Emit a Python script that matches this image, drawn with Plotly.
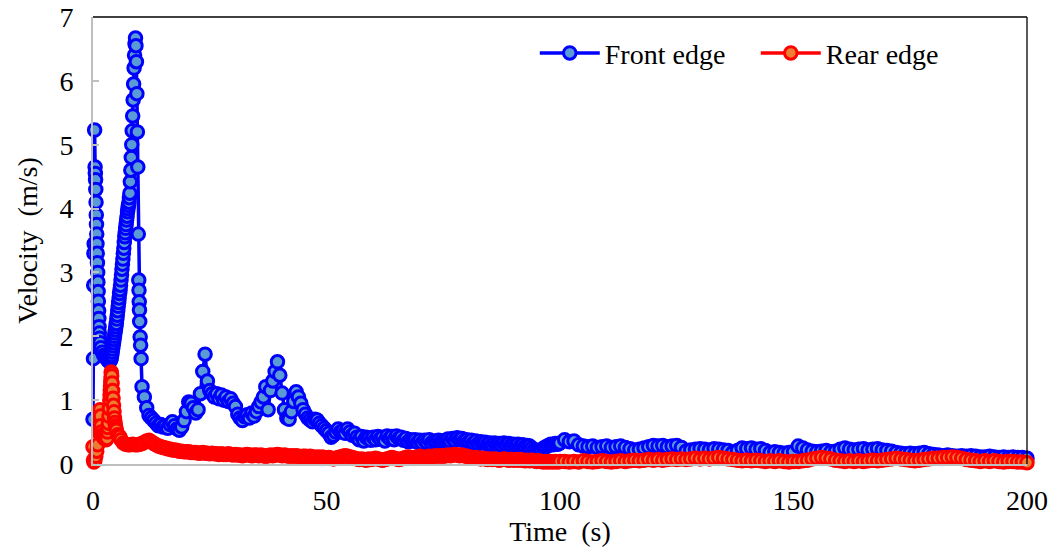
import plotly.graph_objects as go

# ---- palette / fonts ---------------------------------------------------------
FRONT_LINE = "#0000FF"
FRONT_FILL = "#5B9BD5"
REAR_LINE = "#FF0000"
REAR_FILL = "#ED7D31"
AXIS_GREY = "#BFBFBF"
FONT = "Liberation Serif, Times New Roman, serif"
FS = 28

# ---- data: front edge --------------------------------------------------------
# first ~10 s, irregular sampling
front_t_early = [0.0, 0.1, 0.15, 0.2, 0.25, 0.35, 0.45, 0.5, 0.55, 0.6,
                 0.65, 0.7, 0.75, 0.8, 0.85, 0.9, 0.95, 1.0, 1.05, 1.1,
                 1.15, 1.2, 1.25, 1.3, 1.35, 1.4, 1.5, 1.7, 2.0, 2.3,
                 2.6, 2.9, 3.2, 3.5, 3.8, 3.9, 4.0, 4.1, 4.2, 4.3,
                 4.4, 4.5, 4.6, 4.7, 4.8, 4.9, 5.0, 5.1, 5.2, 5.3,
                 5.4, 5.5, 5.6, 5.7, 5.8, 5.9, 6.0, 6.1, 6.2, 6.3,
                 6.4, 6.5, 6.6, 6.7, 6.8, 6.9, 7.0, 7.1, 7.2, 7.3,
                 7.4, 7.5, 7.6, 7.7, 7.8, 7.9, 8.0, 8.1, 8.2, 8.3,
                 8.4, 8.5, 8.6, 8.7, 8.8, 8.9, 9.0, 9.1, 9.2, 9.3,
                 9.4, 9.5, 9.6, 9.7, 9.8, 9.85, 9.9, 9.95, 10.0, 10.1,
                 10.2, 10.3]
front_v_early = [0.70, 1.65, 2.80, 3.30, 3.45, 5.23, 4.65, 4.55, 4.45, 4.30,
                 4.10, 3.90, 3.75, 3.60, 3.45, 3.30, 3.15, 3.00, 2.85, 2.70,
                 2.55, 2.40, 2.28, 2.15, 2.05, 1.97, 1.90, 1.82, 1.75, 1.70,
                 1.68, 1.65, 1.62, 1.60, 1.63, 1.66, 1.70, 1.75, 1.80, 1.85,
                 1.90, 1.95, 2.00, 2.05, 2.10, 2.15, 2.20, 2.27, 2.33, 2.40,
                 2.47, 2.53, 2.60, 2.67, 2.73, 2.80, 2.88, 2.96, 3.05, 3.13,
                 3.21, 3.30, 3.38, 3.47, 3.56, 3.62, 3.69, 3.75, 3.82, 3.88,
                 3.95, 4.00, 4.05, 4.10, 4.17, 4.24, 4.42, 4.60, 4.80, 5.00,
                 5.22, 5.45, 5.70, 5.95, 6.20, 6.40, 6.58, 6.67, 6.55, 6.30,
                 5.80, 5.20, 4.65, 3.60, 2.88, 2.72, 2.54, 2.41, 2.23, 1.99,
                 1.86, 1.65]
# 10.5 s .. 100 s, every 0.5 s
front_v_mid = [1.21, 1.05, 0.88, 0.76, 0.72, 0.68, 0.64, 0.60, 0.62, 0.58,
               0.60, 0.56, 0.62, 0.66, 0.60, 0.55, 0.53, 0.58, 0.68, 0.82,
               0.97, 0.95, 0.88, 0.80, 0.85, 1.10, 1.45, 1.72, 1.30, 1.15,
               1.10, 1.05, 1.10, 1.02, 1.08, 1.00, 1.05, 0.98, 1.02, 0.95,
               0.90, 0.78, 0.72, 0.68, 0.74, 0.77, 0.72, 0.80, 0.75, 0.82,
               0.90, 0.97, 1.05, 1.21, 0.85, 1.15, 1.30, 1.45, 1.60, 1.39,
               1.11, 0.85, 0.72, 0.70, 0.82, 0.98, 1.13, 1.05, 0.95, 0.85,
               0.78, 0.72, 0.69, 0.66, 0.70, 0.69, 0.64, 0.60, 0.56, 0.52,
               0.48, 0.42, 0.45, 0.50, 0.55, 0.50, 0.52, 0.48, 0.55, 0.50,
               0.45, 0.48, 0.42, 0.38, 0.43, 0.36, 0.42, 0.40, 0.37, 0.42,
               0.38, 0.43, 0.39, 0.42, 0.36, 0.44, 0.40, 0.43, 0.38, 0.44,
               0.40, 0.42, 0.37, 0.40, 0.35, 0.38, 0.36, 0.38, 0.34, 0.37,
               0.33, 0.37, 0.34, 0.38, 0.33, 0.36, 0.35, 0.37, 0.34, 0.36,
               0.37, 0.39, 0.36, 0.40, 0.37, 0.41, 0.38, 0.40, 0.36, 0.38,
               0.35, 0.37, 0.33, 0.36, 0.32, 0.35, 0.33, 0.34, 0.31, 0.33,
               0.30, 0.33, 0.31, 0.32, 0.30, 0.33, 0.30, 0.32, 0.29, 0.31,
               0.29, 0.31, 0.28, 0.30, 0.27, 0.29, 0.28, 0.25, 0.22, 0.20,
               0.19, 0.22, 0.25, 0.27, 0.29, 0.31, 0.30, 0.32, 0.31, 0.33]
# 101 s .. 200 s, every 1 s
front_v_late = [0.38, 0.35, 0.36, 0.30, 0.28, 0.27, 0.28, 0.26, 0.27, 0.28,
                0.26, 0.27, 0.28, 0.26, 0.24, 0.22, 0.23, 0.25, 0.27, 0.29,
                0.28, 0.29, 0.27, 0.28, 0.29, 0.26, 0.20, 0.22, 0.23, 0.24,
                0.23, 0.22, 0.24, 0.23, 0.22, 0.21, 0.18, 0.21, 0.25, 0.24,
                0.25, 0.23, 0.24, 0.21, 0.18, 0.19, 0.18, 0.17, 0.18, 0.19,
                0.28, 0.25, 0.22, 0.20, 0.19, 0.20, 0.21, 0.19, 0.20, 0.23,
                0.25, 0.23, 0.22, 0.23, 0.24, 0.22, 0.23, 0.24, 0.22, 0.21,
                0.20, 0.18, 0.17, 0.16, 0.17, 0.16, 0.17, 0.18, 0.16, 0.15,
                0.14, 0.13, 0.14, 0.13, 0.12, 0.13, 0.12, 0.13, 0.12, 0.11,
                0.11, 0.12, 0.11, 0.10, 0.11, 0.10, 0.11, 0.10, 0.10, 0.09]

# ---- data: rear edge ---------------------------------------------------------
rear_t_early = [0.0, 0.1, 0.2, 0.4, 0.6, 0.8, 1.0, 1.2, 1.4, 1.5,
                1.6, 1.7, 1.8, 2.0, 2.2, 2.5, 2.8, 3.0, 3.1, 3.2,
                3.3, 3.4, 3.5, 3.6, 3.65, 3.7, 3.75, 3.8, 3.85, 3.9,
                3.95, 4.0, 4.1, 4.2, 4.3, 4.4, 4.5, 4.6, 4.7, 4.8,
                4.9, 5.0, 5.3, 5.7, 6.0, 6.5, 7.0, 7.5, 8.0, 8.5,
                9.0, 9.5, 10.0]
rear_v_early = [0.27, 0.06, 0.03, 0.05, 0.12, 0.20, 0.30, 0.50, 0.70, 0.85,
                0.75, 0.60, 0.50, 0.45, 0.42, 0.40, 0.38, 0.40, 0.50, 0.57,
                0.64, 0.75, 0.87, 1.00, 1.08, 1.16, 1.22, 1.29, 1.36, 1.44,
                1.42, 1.38, 1.27, 1.15, 1.03, 0.92, 0.82, 0.72, 0.65, 0.60,
                0.56, 0.53, 0.46, 0.43, 0.38, 0.33, 0.31, 0.30, 0.30, 0.31,
                0.30, 0.30, 0.31]
rear_v_mid = [0.32, 0.34, 0.36, 0.37, 0.35, 0.32, 0.30, 0.28, 0.27, 0.26,
              0.25, 0.24, 0.23, 0.22, 0.22, 0.21, 0.20, 0.20, 0.19, 0.19,
              0.19, 0.18, 0.18, 0.18, 0.17, 0.17, 0.18, 0.17, 0.17, 0.16,
              0.17, 0.16, 0.16, 0.15, 0.16, 0.15, 0.15, 0.16, 0.15, 0.14,
              0.15, 0.14, 0.14, 0.13, 0.14, 0.15, 0.14, 0.13, 0.14, 0.14,
              0.13, 0.14, 0.13, 0.12, 0.13, 0.14, 0.13, 0.14, 0.15, 0.14,
              0.13, 0.14, 0.13, 0.12, 0.13, 0.12, 0.13, 0.12, 0.11, 0.12,
              0.12, 0.11, 0.12, 0.11, 0.10, 0.11, 0.10, 0.11, 0.10, 0.09,
              0.10, 0.09, 0.08, 0.09, 0.10, 0.11, 0.12, 0.13, 0.12, 0.11,
              0.10, 0.09, 0.08, 0.07, 0.08, 0.07, 0.06, 0.08, 0.07, 0.08,
              0.09, 0.08, 0.07, 0.06, 0.07, 0.08, 0.09, 0.10, 0.09, 0.08,
              0.07, 0.08, 0.09, 0.10, 0.11, 0.10, 0.09, 0.10, 0.11, 0.12,
              0.11, 0.10, 0.11, 0.12, 0.11, 0.12, 0.13, 0.12, 0.13, 0.12,
              0.13, 0.14, 0.13, 0.14, 0.15, 0.14, 0.13, 0.14, 0.13, 0.12,
              0.11, 0.10, 0.09, 0.10, 0.09, 0.08, 0.09, 0.08, 0.07, 0.08,
              0.07, 0.08, 0.07, 0.06, 0.07, 0.08, 0.07, 0.06, 0.07, 0.06,
              0.07, 0.06, 0.07, 0.06, 0.05, 0.06, 0.05, 0.06, 0.05, 0.04,
              0.05, 0.04, 0.03, 0.04, 0.03, 0.04, 0.03, 0.04, 0.03, 0.04]
rear_v_late = [0.04, 0.03, 0.04, 0.03, 0.05, 0.04, 0.03, 0.04, 0.05, 0.04,
               0.03, 0.04, 0.05, 0.04, 0.05, 0.06, 0.05, 0.06, 0.07, 0.06,
               0.07, 0.06, 0.07, 0.08, 0.07, 0.08, 0.07, 0.08, 0.09, 0.08,
               0.09, 0.08, 0.09, 0.10, 0.09, 0.08, 0.07, 0.06, 0.05, 0.06,
               0.05, 0.06, 0.05, 0.04, 0.05, 0.04, 0.05, 0.04, 0.03, 0.04,
               0.04, 0.05, 0.06, 0.08, 0.09, 0.10, 0.09, 0.08, 0.06, 0.05,
               0.04, 0.05, 0.04, 0.05, 0.04, 0.05, 0.06, 0.05, 0.06, 0.07,
               0.08, 0.09, 0.08, 0.07, 0.06, 0.05, 0.06, 0.07, 0.08, 0.09,
               0.09, 0.10, 0.10, 0.11, 0.10, 0.09, 0.07, 0.06, 0.05, 0.04,
               0.05, 0.04, 0.05, 0.04, 0.03, 0.04, 0.04, 0.03, 0.03, 0.02]

# sampling of the recorded data: 0.5 s up to 100 s, then 1 s
MID_START, MID_STEP = 10.5, 0.5
LATE_START, LATE_STEP = 101, 1


def _times(start, step, n):
    return [start + step * i for i in range(n)]


front_t = (front_t_early + _times(MID_START, MID_STEP, len(front_v_mid))
           + _times(LATE_START, LATE_STEP, len(front_v_late)))
front_v = front_v_early + front_v_mid + front_v_late
rear_t = (rear_t_early + _times(MID_START, MID_STEP, len(rear_v_mid))
          + _times(LATE_START, LATE_STEP, len(rear_v_late)))
rear_v = rear_v_early + rear_v_mid + rear_v_late


def _series(name, t, v, line_col, fill_col):
    return go.Scatter(x=t, y=v, name=name, mode="lines+markers", cliponaxis=False,
                      line=dict(color=line_col, width=3.5),
                      marker=dict(size=12.5, color=fill_col, line=dict(color=line_col, width=3)))


def _axis(**extra):
    base = dict(showgrid=False, zeroline=False, automargin=False,
                showline=True, linecolor=AXIS_GREY, linewidth=2,
                tickfont=dict(family=FONT, size=FS, color="black"))
    base.update(extra)
    return base


fig = go.Figure()
fig.add_trace(_series("Front edge", front_t, front_v, FRONT_LINE, FRONT_FILL))
fig.add_trace(_series("Rear edge", rear_t, rear_v, REAR_LINE, REAR_FILL))

fig.update_layout(
    width=1059, height=554, autosize=False,
    paper_bgcolor="white", plot_bgcolor="white",
    font=dict(family=FONT, color="black", size=FS),
    margin=dict(l=93, r=32, t=17, b=90),
    showlegend=True,
    legend=dict(orientation="h", x=0.473, xanchor="left", y=0.919, yanchor="middle",
                bgcolor="rgba(0,0,0,0)", font=dict(family=FONT, size=FS, color="black"),
                itemwidth=60, entrywidth=146, entrywidthmode="pixels"),
    xaxis=_axis(range=[0, 200], dtick=50, ticks="", ticklabelstandoff=10,
                title=dict(text="Time  (s)", font=dict(family=FONT, size=FS, color="black"), standoff=6)),
    yaxis=_axis(range=[0, 7], dtick=1, ticks="inside", ticklen=6, tickcolor=AXIS_GREY, tickwidth=2,
                ticklabelstandoff=12,
                title=dict(text="Velocity  (m/s)", font=dict(family=FONT, size=FS, color="black"), standoff=14)),
)

# thin black frame on the top and right edges of the plot area
fig.add_shape(type="line", xref="paper", yref="paper", x0=0, x1=1, y0=1, y1=1,
              line=dict(color="black", width=1.3), layer="above")
fig.add_shape(type="line", xref="paper", yref="paper", x0=1, x1=1, y0=0, y1=1,
              line=dict(color="black", width=1.3), layer="above")

# the page body has a default 8px margin; drop it so the figure sits at (0, 0)
fig.write_html("out.html", config={"displayModeBar": False},
               post_script="document.body.style.margin='0';")
